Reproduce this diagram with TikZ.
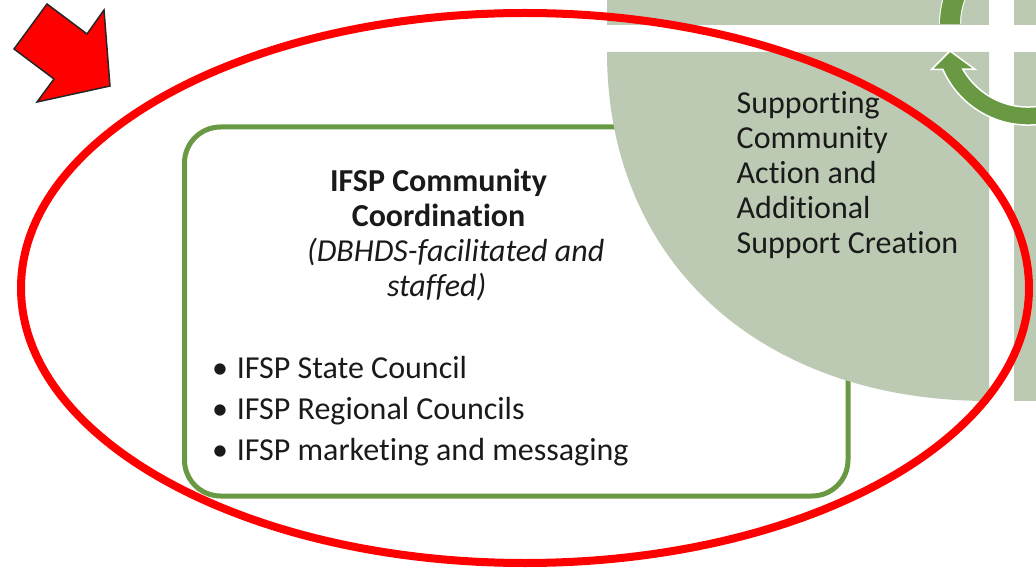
\documentclass[tikz,border=0pt]{standalone}
\usepackage{fontspec}
\setmainfont[Ligatures={NoCommon}]{Carlito}
\definecolor{leafgreen}{RGB}{188,202,179}
\definecolor{boxgreen}{RGB}{106,153,67}
\definecolor{inkgray}{RGB}{26,26,26}
\begin{document}
\begin{tikzpicture}[x=1pt,y=-1pt,
    txt/.style={inner sep=0pt,text=inkgray,font=\fontsize{32}{35}\selectfont},
    bullets/.style={inner sep=0pt,text=inkgray,font=\fontsize{32}{41}\selectfont,align=left},
    ring/.style={fill=boxgreen,draw=white,line width=1.5pt}]
    \def\k{0.6}
    \useasboundingbox (0,0) rectangle (1036,569);
    \clip (0,0) rectangle (1036,569);

    % rounded box, partly under the quadrant
    \draw[boxgreen,line width=5pt,rounded corners=36pt] (184.5,127) rectangle (848,496);

    % quadrants of the cycle matrix
    \fill[leafgreen] (607,-5) rectangle (989,25);
    \fill[leafgreen] (1014,-5) rectangle (1040,25);
    \fill[leafgreen] (1014,52) rectangle (1040,401);
    \fill[leafgreen] (607,52) -- (989,52) -- (989,401)
        .. controls ({989-\k*382},401) and (607,{52+\k*349}) .. cycle;

    % circular arrows
    \draw[white,line width=22pt] (950,24) arc[start angle=180,end angle=215,radius=80];
    \draw[boxgreen,line width=20pt] (950,24) arc[start angle=180,end angle=215,radius=80];
    \draw[ring] (942.8,69.3) arc[start angle=156.4,end angle=60,radius=93]
        -- (1065.5,97) arc[start angle=60,end angle=150.4,radius=75]
        -- (975,69.3) -- (950,51) -- (931.7,69.3) -- cycle;

    % base anchor of a multi-line node = last line
    \node[txt,anchor=base west,align=left] (support) at (736.5,253.3)
        {Supporting\\Community\\Action and\\Additional\\Support Creation};

    \node[txt,anchor=base,align=center,font=\fontsize{32}{35}\selectfont\bfseries] (title) at (438.5,226.5)
        {IFSP Community\\Coordination};
    \node[txt,anchor=base,font=\fontsize{32}{35}\selectfont\itshape] (note1) at (455.7,261.5) {(DBHDS-facilitated and};
    \node[txt,anchor=base,font=\fontsize{32}{35}\selectfont\itshape] (note2) at (436.7,296.5) {staffed)};

    \node[bullets,anchor=base west] (list) at (203.3,460)
        {\makebox[33.4pt][c]{•}IFSP State Council\\
         \makebox[33.4pt][c]{•}IFSP Regional Councils\\
         \makebox[33.4pt][c]{•}IFSP marketing and messaging};

    % red highlight
    \draw[red,line width=8pt] (525,288) ellipse[x radius=504,y radius=275];
    \draw[fill=red,draw=black!85,line width=1.5pt]
        (47,4) -- (87,34) -- (104,10) -- (110,86) -- (37,102) -- (54,79) -- (14,49) -- cycle;
\end{tikzpicture}
\end{document}
